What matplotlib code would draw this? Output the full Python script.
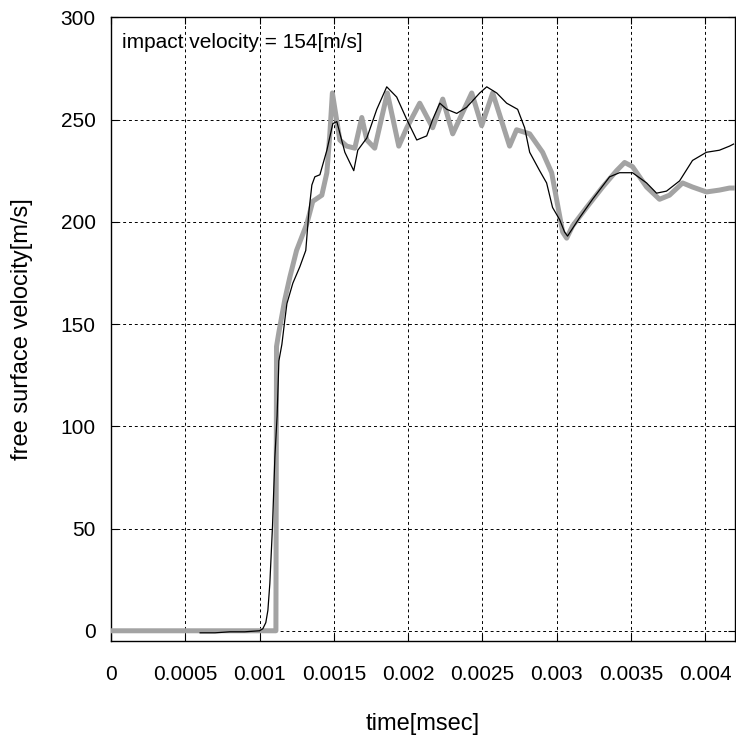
import matplotlib
matplotlib.use("Agg")
import matplotlib.pyplot as plt

plt.rcParams['font.family'] = ['Liberation Sans', 'DejaVu Sans']

# measured (black, thin) free surface velocity
exp_t = [0.00060, 0.00070, 0.00080, 0.00090, 0.00100, 0.001022, 0.001042, 0.001056,
         0.001069, 0.001087, 0.001103, 0.001118, 0.001130, 0.001150, 0.001170, 0.001184,
         0.001224, 0.001271, 0.001311, 0.001332, 0.001352, 0.001372, 0.001406, 0.001453,
         0.001493, 0.001520, 0.001574, 0.001607, 0.001634, 0.001661, 0.001722, 0.001789,
         0.001856, 0.001923, 0.001991, 0.002058, 0.002091, 0.002125, 0.002165, 0.002213,
         0.002260, 0.002327, 0.002394, 0.002482, 0.002529, 0.002596, 0.002663, 0.002737,
         0.002784, 0.002818, 0.002885, 0.002932, 0.002972, 0.003020, 0.003053, 0.003073,
         0.003154, 0.003241, 0.003356, 0.003423, 0.003510, 0.003605, 0.003672, 0.003739,
         0.003827, 0.003914, 0.004008, 0.004095, 0.004163, 0.004190]
exp_v = [-1, -1, -0.5, -0.5, 0, 1, 4, 10,
         23, 51, 85, 105, 132, 140, 152, 160,
         170, 178, 186, 205, 218, 222, 223, 235,
         248, 249, 234, 229, 225, 235, 241, 255,
         266, 261, 250, 240, 241, 242, 250, 258,
         255, 253, 256, 263, 266, 263, 258, 255,
         246, 234, 225, 219, 207, 201, 195, 193,
         202, 211, 222, 224, 224, 219, 214, 215,
         220, 230, 234, 235, 237, 238]

# simulated (grey, thick) free surface velocity
sim_t = [0.0, 0.00111, 0.001114, 0.001130, 0.001170, 0.001204, 0.001249, 0.001318,
         0.001358, 0.001419, 0.001453, 0.001473, 0.001490, 0.001540, 0.001587, 0.001641,
         0.001688, 0.001722, 0.001775, 0.001860, 0.001937, 0.001991, 0.002078, 0.002165,
         0.002233, 0.002300, 0.002428, 0.002495, 0.002569, 0.002683, 0.002730, 0.002818,
         0.002905, 0.002966, 0.002999, 0.003040, 0.003067, 0.003107, 0.003201, 0.003309,
         0.003403, 0.003457, 0.003510, 0.003605, 0.003692, 0.003759, 0.003847, 0.003914,
         0.004008, 0.004095, 0.004163, 0.004200]
sim_v = [0, 0, 139, 146, 162, 173, 186, 199,
         210, 213, 224, 243, 263, 240, 237, 236,
         251, 240, 236, 263, 237, 246, 258, 246,
         260, 243, 263, 247, 263, 237, 245, 243,
         234, 224, 211, 195, 192, 198, 207, 217,
         225, 229, 227, 217, 211, 213, 219, 217,
         214.6, 215.5, 216.5, 216.5]

x_ticks = [0, 0.0005, 0.001, 0.0015, 0.002, 0.0025, 0.003, 0.0035, 0.004]
x_tick_labels = ['0', '0.0005', '0.001', '0.0015', '0.002', '0.0025', '0.003', '0.0035', '0.004']
y_ticks = [0, 50, 100, 150, 200, 250, 300]

fig = plt.figure(figsize=(7.36, 7.51), dpi=100)
ax = fig.add_axes([111/736, 110/751, (735-111)/736, (641-17.3)/751])

ax.plot(sim_t, sim_v, color='#a3a3a3', lw=3.6, solid_joinstyle='round', zorder=3)
ax.plot(exp_t, exp_v, color='black', lw=0.9, zorder=4)

ax.set_xlim(0, 0.0042)
ax.set_ylim(-5, 300)
ax.set_xticks(x_ticks)
ax.set_xticklabels(x_tick_labels)
ax.set_yticks(y_ticks)

ax.grid(True, color='black', linestyle=(0, (3, 3)), lw=0.7, zorder=1)
ax.set_axisbelow(True)
for s in ax.spines.values():
    s.set_linewidth(1.0)
    s.set_color('black')

ax.tick_params(axis='both', direction='in', length=5, width=0.8, labelsize=15,
               top=True, right=True)
ax.tick_params(axis='x', pad=17)
ax.tick_params(axis='y', pad=11)

ax.set_xlabel('time[msec]', fontsize=17)
ax.xaxis.set_label_coords(0.5, (641-724)/(641-17.3))
ax.xaxis.label.set_va('center')
ax.set_ylabel('free surface velocity[m/s]', fontsize=17)
ax.yaxis.set_label_coords((22-111)/(735-111), 0.5)
ax.yaxis.label.set_va('center')

ax.text((122-111)/(735-111), (641-42)/(641-17.3), 'impact velocity = 154[m/s]',
        transform=ax.transAxes, fontsize=15, ha='left', va='center')

fig.savefig('out.png', dpi=100)
